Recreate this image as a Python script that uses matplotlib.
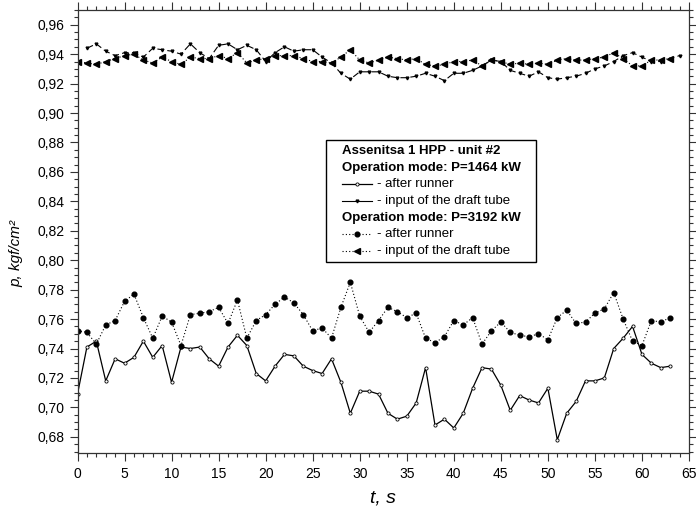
import matplotlib
matplotlib.use('Agg')
import matplotlib.pyplot as plt
from matplotlib.lines import Line2D
from matplotlib.patches import Rectangle
from matplotlib.ticker import MultipleLocator, FuncFormatter

plt.rcParams['font.family'] = ['Liberation Sans', 'DejaVu Sans']

# time axis, s
t_main = list(range(0, 64))
t_shift = list(range(1, 65))

# P=1464 kW
p1464_after = [0.709, 0.741, 0.745, 0.718, 0.733, 0.730, 0.734, 0.745, 0.734, 0.742,
               0.717, 0.741, 0.740, 0.741, 0.733, 0.728, 0.741, 0.749, 0.742, 0.723,
               0.718, 0.728, 0.736, 0.735, 0.728, 0.725, 0.723, 0.733, 0.717, 0.696,
               0.711, 0.711, 0.709, 0.696, 0.692, 0.694, 0.703, 0.727, 0.688, 0.692,
               0.686, 0.696, 0.713, 0.727, 0.726, 0.715, 0.698, 0.708, 0.705, 0.703,
               0.713, 0.678, 0.696, 0.704, 0.718, 0.718, 0.720, 0.740, 0.747, 0.755,
               0.736, 0.730, 0.727, 0.728]
p1464_input = [0.944, 0.947, 0.942, 0.939, 0.941, 0.941, 0.938, 0.944, 0.943, 0.942,
               0.940, 0.947, 0.941, 0.937, 0.946, 0.947, 0.943, 0.946, 0.943, 0.935,
               0.941, 0.945, 0.942, 0.943, 0.943, 0.938, 0.934, 0.927, 0.923, 0.928,
               0.928, 0.928, 0.925, 0.924, 0.924, 0.925, 0.927, 0.925, 0.922, 0.927,
               0.927, 0.929, 0.932, 0.936, 0.935, 0.929, 0.927, 0.925, 0.928, 0.924,
               0.923, 0.924, 0.925, 0.927, 0.930, 0.932, 0.935, 0.939, 0.941, 0.938,
               0.935, 0.935, 0.937, 0.939]

# P=3192 kW
p3192_after = [0.752, 0.751, 0.743, 0.756, 0.759, 0.772, 0.777, 0.761, 0.747, 0.762,
               0.758, 0.742, 0.763, 0.764, 0.765, 0.768, 0.757, 0.773, 0.747, 0.759,
               0.763, 0.770, 0.775, 0.771, 0.763, 0.752, 0.754, 0.747, 0.768, 0.785,
               0.762, 0.751, 0.759, 0.768, 0.765, 0.761, 0.764, 0.747, 0.744, 0.748,
               0.759, 0.756, 0.761, 0.743, 0.752, 0.758, 0.751, 0.749, 0.748, 0.750,
               0.746, 0.761, 0.766, 0.757, 0.758, 0.764, 0.767, 0.778, 0.760, 0.745,
               0.742, 0.759, 0.758, 0.761]
p3192_input = [0.935, 0.934, 0.933, 0.935, 0.937, 0.939, 0.940, 0.936, 0.934, 0.938,
               0.935, 0.933, 0.938, 0.937, 0.937, 0.939, 0.937, 0.941, 0.934, 0.936,
               0.937, 0.939, 0.939, 0.939, 0.937, 0.935, 0.935, 0.934, 0.938, 0.943,
               0.936, 0.934, 0.936, 0.938, 0.937, 0.936, 0.937, 0.933, 0.932, 0.933,
               0.935, 0.935, 0.936, 0.932, 0.936, 0.935, 0.933, 0.934, 0.933, 0.934,
               0.933, 0.936, 0.937, 0.936, 0.936, 0.937, 0.938, 0.941, 0.937, 0.932,
               0.932, 0.936, 0.936, 0.937]

legend_rows = [
    ('Assenitsa 1 HPP - unit #2', None),
    ('Operation mode: P=1464 kW', None),
    ('- after runner', 'a1464'),
    ('- input of the draft tube', 'i1464'),
    ('Operation mode: P=3192 kW', None),
    ('- after runner', 'a3192'),
    ('- input of the draft tube', 'i3192'),
]

sty = {
    'a1464': dict(color='k', lw=0.9, ls='-', marker='o', ms=2.3, mfc='white', mec='k', mew=0.6),
    'i1464': dict(color='k', lw=0.8, ls=(0, (6, 3)), marker='v', ms=2.0, mfc='k', mec='k'),
    'a3192': dict(color='k', lw=0.8, ls=(0, (1, 2)), marker='o', ms=3.4, mfc='k', mec='k'),
    'i3192': dict(color='k', lw=0.8, ls=(0, (1, 2)), marker='<', ms=4.2, mfc='k', mec='k'),
}

#==================================================================
def draw_legend(ax):
    x0, x1 = 0.406, 0.750
    y0, y1 = 0.431, 0.707
    ax.add_patch(Rectangle((x0, y0), x1 - x0, y1 - y0, transform=ax.transAxes,
                           facecolor='white', edgecolor='k', lw=1.0, zorder=5))
    hx0, hx1, tx = 0.433, 0.482, 0.490
    for i, (txt, key) in enumerate(legend_rows):
        y = 0.682 - 0.0377 * i
        if key is None:
            ax.text(hx0, y, txt, transform=ax.transAxes, fontsize=9.5,
                    fontweight='bold', va='center', ha='left', zorder=6)
            continue
        s = dict(sty[key])
        if key == 'i1464':
            s['ls'] = '-'
        # sample line, then the marker in its middle
        ax.add_line(Line2D([hx0, hx1], [y, y], transform=ax.transAxes,
                           zorder=6, **dict(s, marker='None')))
        ax.add_line(Line2D([(hx0 + hx1) / 2], [y], transform=ax.transAxes,
                           zorder=6, **dict(s, ls='None')))
        ax.text(tx, y, txt, transform=ax.transAxes, fontsize=9.5,
                va='center', ha='left', zorder=6)

#==================================================================
def plot_image():
    fig = plt.figure(figsize=(6.96, 5.16), dpi=100)
    ax = fig.add_axes([77.5 / 696, 1 - 453 / 516, 611.5 / 696, 443 / 516])

    ax.plot(t_main, p1464_after, **sty['a1464'])
    ax.plot(t_shift, p1464_input, **sty['i1464'])
    ax.plot(t_main, p3192_after, **sty['a3192'])
    ax.plot(t_main, p3192_input, **sty['i3192'])

    ax.set_xlim(0, 65)
    ax.set_ylim(0.669, 0.970)
    ax.xaxis.set_major_locator(MultipleLocator(5))
    ax.xaxis.set_minor_locator(MultipleLocator(1))
    ax.yaxis.set_major_locator(MultipleLocator(0.02))
    ax.yaxis.set_minor_locator(MultipleLocator(0.005))
    ax.yaxis.set_major_formatter(FuncFormatter(lambda v, p: f'{v:.2f}'.replace('.', ',')))

    ax.tick_params(which='both', direction='out', top=True, right=True,
                   labelsize=10, width=0.8, color='#333333')
    ax.tick_params(which='major', length=6)
    ax.tick_params(which='minor', length=3)
    ax.tick_params(axis='x', which='major', pad=4)
    for sp in ax.spines.values():
        sp.set_linewidth(0.9)
        sp.set_color('#333333')

    ax.set_xlabel('t, s', fontsize=14, style='italic')
    ax.xaxis.set_label_coords(0.5, -0.083)
    ax.set_ylabel('p, kgf/cm\u00b2', fontsize=11, style='italic')
    ax.yaxis.set_label_coords(-0.088, 0.45)

    draw_legend(ax)

    fig.savefig('out.png', dpi=100)

#==================================================================
if __name__ == "__main__":
    plot_image()
